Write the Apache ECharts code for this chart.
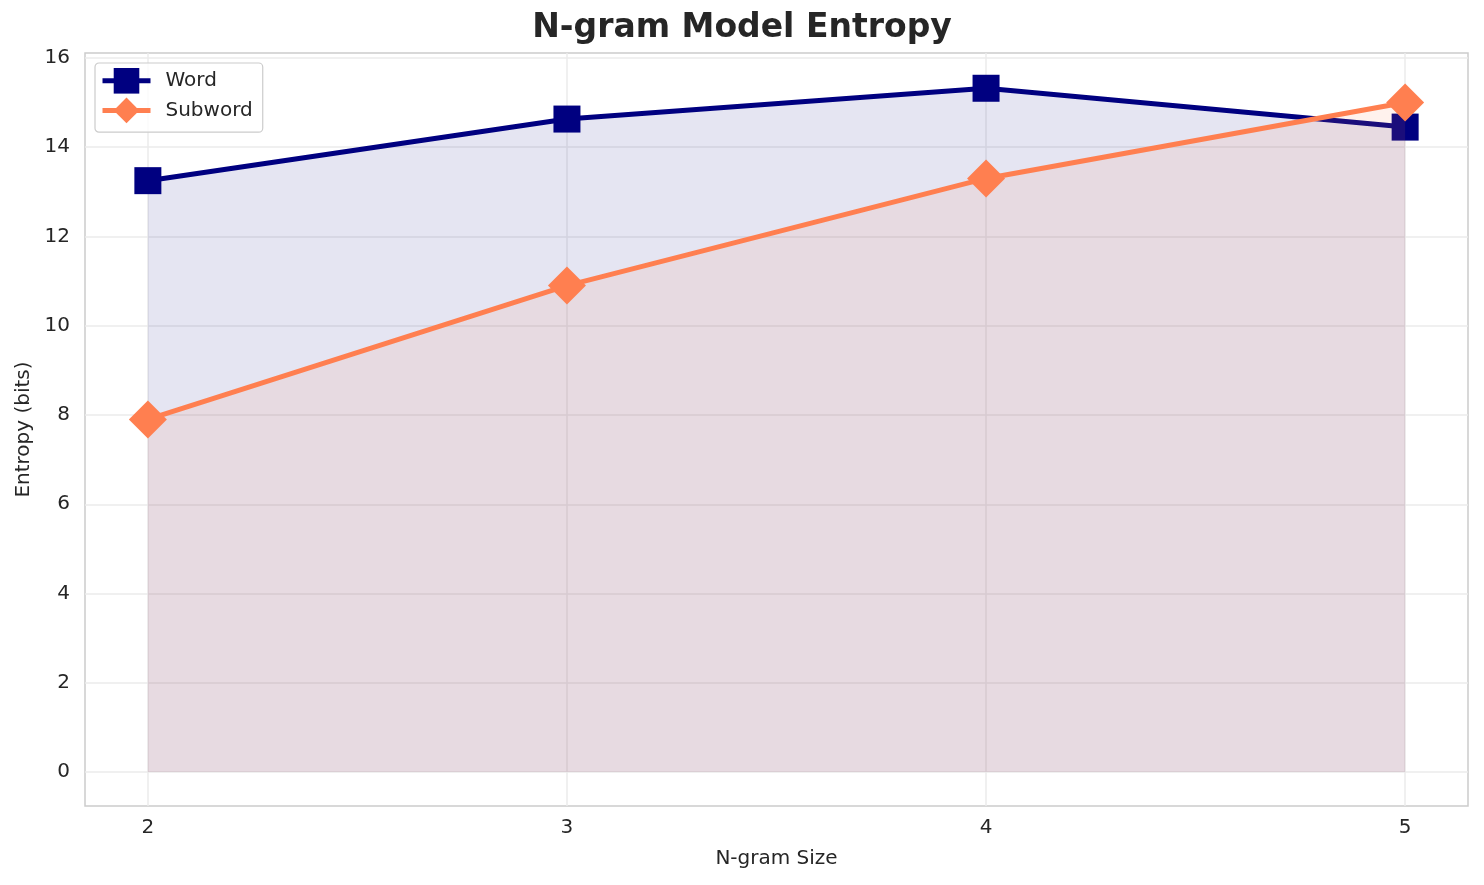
<!DOCTYPE html>
<html>
<head>
<meta charset="utf-8">
<title>N-gram Model Entropy</title>
<script src="https://cdn.jsdelivr.net/npm/echarts@6/dist/echarts.min.js"></script>
<style>
  html, body { margin: 0; padding: 0; background: #fff; }
  #chart { width: 1484px; height: 885px; }
</style>
</head>
<body>
<div id="chart"></div>
<script>
// data
const ngramSizes = [2, 3, 4, 5]
const wordEntropy = [13.25, 14.63, 15.32, 14.45]
const subwordEntropy = [7.9, 10.9, 13.3, 15.0]
const xTicks = [2, 3, 4, 5]
const yTicks = [0, 2, 4, 6, 8, 10, 12, 14, 16]

const font = 'DejaVu Sans'
const textColor = '#262626'
const gridColor = '#ebebeb'

const pairs = ys => ngramSizes.map((x, i) => [x, ys[i]])

const chart = echarts.init(document.getElementById('chart'), null, { renderer: 'canvas' })

const option = {
  animation: false,
  backgroundColor: '#ffffff',
  textStyle: { fontFamily: font, color: textColor },
  title: {
    text: 'N-gram Model Entropy',
    left: 'center',
    top: 7,
    textStyle: { fontFamily: font, fontSize: 33, fontWeight: 'bold', color: textColor }
  },
  legend: {
    orient: 'vertical',
    left: 95,
    top: 63,
    padding: [5, 10, 9, 5],
    itemWidth: 48,
    itemHeight: 32,
    itemGap: 4,
    backgroundColor: 'rgba(255,255,255,0.8)',
    borderColor: '#cccccc',
    borderWidth: 1.2,
    borderRadius: 4,
    lineStyle: { width: 5 },
    textStyle: { fontFamily: font, fontSize: 20, color: textColor, padding: [0, 0, 0, 10] },
    data: ['Word', 'Subword']
  },
  grid: {
    left: 85,
    right: 16,
    top: 53,
    bottom: 79,
    show: true,
    borderColor: '#cccccc',
    borderWidth: 1.5,
    outerBoundsMode: 'none'
  },
  xAxis: {
    type: 'value',
    min: 1.85,
    max: 5.15,
    name: 'N-gram Size',
    nameLocation: 'middle',
    nameGap: 43,
    nameTextStyle: { fontFamily: font, fontSize: 20, color: textColor },
    axisLine: { show: false },
    axisTick: { show: false },
    splitLine: { show: false },
    axisLabel: {
      customValues: xTicks,
      margin: 12,
      fontFamily: font,
      fontSize: 20,
      color: textColor
    }
  },
  yAxis: {
    type: 'value',
    min: -0.76,
    max: 16.11,
    name: 'Entropy (bits)',
    nameLocation: 'middle',
    nameGap: 50,
    nameTextStyle: { fontFamily: font, fontSize: 20, color: textColor },
    axisLine: { show: false },
    axisTick: { show: false },
    splitLine: { show: false },
    axisLabel: {
      customValues: yTicks,
      margin: 15,
      fontFamily: font,
      fontSize: 20,
      color: textColor
    }
  },
  series: [
    {
      // grid lines only, kept under the filled areas
      name: 'grid',
      type: 'line',
      data: [],
      z: 1,
      silent: true,
      markLine: {
        z: 1,
        silent: true,
        symbol: 'none',
        label: { show: false },
        lineStyle: { color: gridColor, width: 1.5, type: 'solid' },
        emphasis: { disabled: true },
        data: [
          ...xTicks.map(v => ({ xAxis: v })),
          ...yTicks.map(v => ({ yAxis: v }))
        ]
      }
    },
    {
      name: 'Word',
      type: 'line',
      z: 3,
      data: pairs(wordEntropy),
      symbol: 'rect',
      symbolSize: 27,
      showSymbol: true,
      lineStyle: { color: '#000080', width: 5 },
      itemStyle: { color: '#000080' },
      areaStyle: { color: 'rgba(0,0,128,0.1)', opacity: 1, origin: 0 },
      emphasis: { disabled: true }
    },
    {
      name: 'Subword',
      type: 'line',
      z: 4,
      data: pairs(subwordEntropy),
      symbol: 'diamond',
      symbolSize: 38,
      showSymbol: true,
      lineStyle: { color: '#ff7f50', width: 5 },
      itemStyle: { color: '#ff7f50' },
      areaStyle: { color: 'rgba(255,127,80,0.1)', opacity: 1, origin: 0 },
      emphasis: { disabled: true }
    }
  ]
}

chart.setOption(option)
</script>
</body>
</html>
